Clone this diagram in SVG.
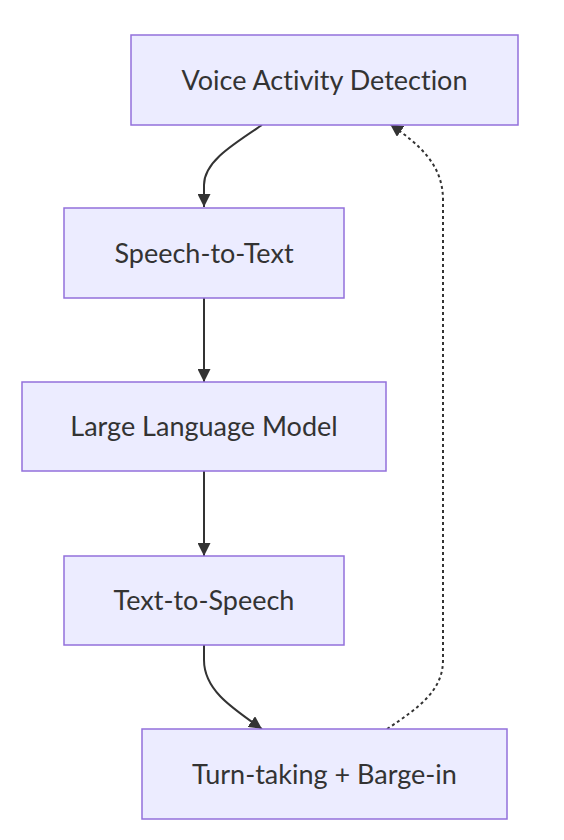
<svg xmlns="http://www.w3.org/2000/svg" width="564" height="840" viewBox="0 0 564 840">
<style>
.node rect{fill:#ECECFF;stroke:#9370DB;stroke-width:1.5}
.node text{font-family:"Lato","DejaVu Sans",sans-serif;font-size:27px;fill:#333333;text-anchor:middle;font-variant-ligatures:none}
.edge{fill:none;stroke:#333333;stroke-width:2}
.dotted{stroke-dasharray:3,3}
</style>
<defs>
<marker id="arrow" viewBox="0 0 10 10" refX="10" refY="5" markerUnits="userSpaceOnUse" markerWidth="13" markerHeight="13" orient="auto">
<path d="M0,0 L10,5 L0,10 z" fill="#333333"/>
</marker>
</defs>
<rect width="564" height="840" fill="#ffffff"/>
<g id="connectors">
<path class="edge" d="M262,125 C232,145 204,162 204,185 L204,207" marker-end="url(#arrow)"/>
<path class="edge" d="M204,298 L204,382" marker-end="url(#arrow)"/>
<path class="edge" d="M204,471 L204,556" marker-end="url(#arrow)"/>
<path class="edge" d="M204,645 L204,660 C204,690 232,708 262,729" marker-end="url(#arrow)"/>
<path class="edge dotted" d="M387,729 C420,707 443,690 443,660 L443,200 C443,165 420,145 390,124" marker-end="url(#arrow)"/>
</g>
<g id="vad" class="node"><rect x="131" y="35" width="387" height="90"/><text x="324.5" y="89.5">Voice Activity Detection</text></g>
<g id="stt" class="node"><rect x="64" y="208" width="280" height="90"/><text x="204" y="262.5">Speech-to-Text</text></g>
<g id="llm" class="node"><rect x="22" y="382" width="364" height="89"/><text x="204" y="436">Large Language Model</text></g>
<g id="tts" class="node"><rect x="64" y="556" width="280" height="89"/><text x="204" y="610">Text-to-Speech</text></g>
<g id="turn" class="node"><rect x="142" y="729" width="365" height="90"/><text x="324.5" y="783.5">Turn-taking + Barge-in</text></g>
</svg>
